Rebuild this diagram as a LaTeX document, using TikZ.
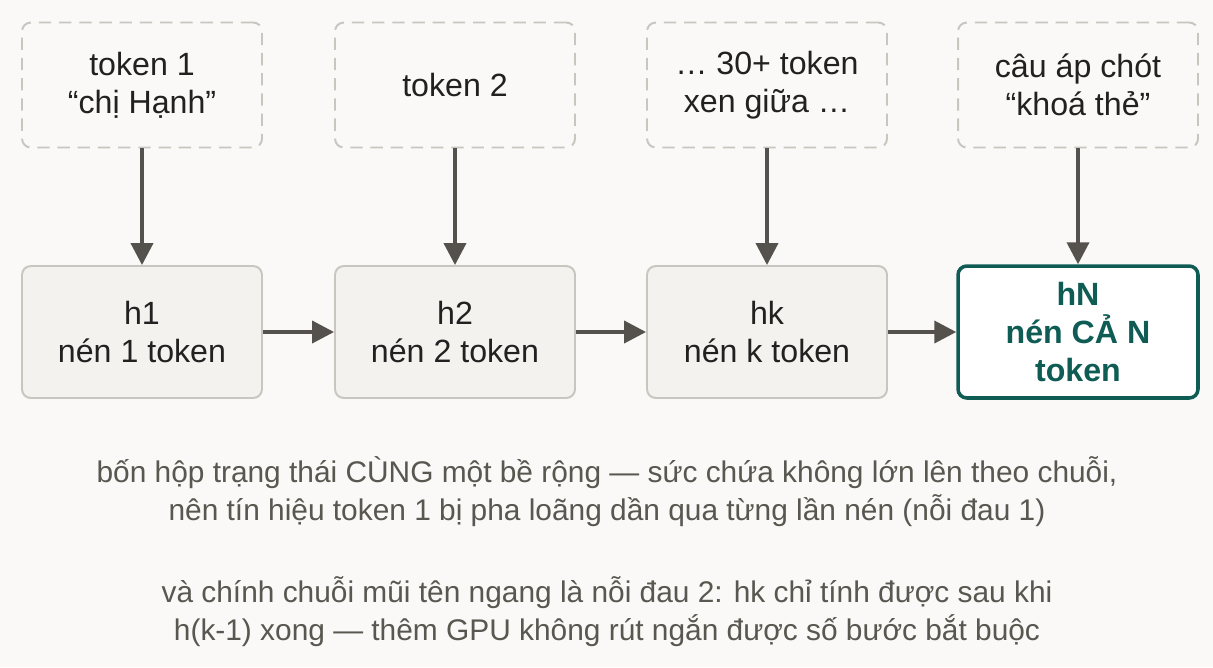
\documentclass[tikz,border=0pt]{standalone}
\usepackage{fontspec}
\setmainfont{Liberation Sans}
\usetikzlibrary{arrows.meta}

\definecolor{nen}{HTML}{FAF9F7}
\definecolor{vien}{HTML}{C9C5BF}
\definecolor{hop}{HTML}{F3F2EF}
\definecolor{muiten}{HTML}{55524D}
\definecolor{chu}{HTML}{5A5650}
\definecolor{xanh}{HTML}{0F5C55}

\tikzset{
  tokbox/.style={draw=vien, line width=1.1pt, dash pattern=on 7pt off 4.5pt,
    rounded corners=5pt, minimum width=4.8cm, minimum height=2.5cm,
    align=center, text=black!87, font=\fontsize{18.3}{21.5}\selectfont},
  hbox/.style={draw=vien, fill=hop, line width=1.1pt, rounded corners=5pt,
    minimum width=4.8cm, minimum height=2.64cm, align=center,
    text=black!87, font=\fontsize{18.3}{21.5}\selectfont},
  hNbox/.style={hbox, draw=xanh, fill=white, line width=2pt, text=xanh,
    font=\fontsize{18.3}{21.5}\selectfont\bfseries},
  noi/.style={->, draw=muiten, line width=2.2pt},
  ghichu/.style={align=center, text=chu, font=\fontsize{17}{21.5}\selectfont}
}

\begin{document}
\begin{tikzpicture}[x=0.02cm, y=-0.02cm, >={Triangle[length=12.5pt,width=12.5pt]}]
  \fill[nen] (0,0) rectangle (1213,667);
  \useasboundingbox (0,0) rectangle (1213,667);

  % hang tren: cac token
  \node[tokbox] (tok1) at (142,85) {token 1\\“chị Hạnh”};
  \node[tokbox] (tok2) at (455,85) {token 2};
  \node[tokbox] (tokk) at (767,85) {… 30+ token\\xen giữa …};
  \node[tokbox] (tokN) at (1078,85) {câu áp chót\\“khoá thẻ”};

  % hang duoi: cac trang thai
  \node[hbox] (h1) at (142,332) {h1\\nén 1 token};
  \node[hbox] (h2) at (455,332) {h2\\nén 2 token};
  \node[hbox] (hk) at (767,332) {hk\\nén k token};
  \node[hNbox] (hN) at (1078,332) {hN\\nén CẢ N\\token};

  \foreach \a/\b in {tok1/h1, tok2/h2, tokk/hk, tokN/hN}
    \draw[noi] (\a) -- (\b);
  \foreach \a/\b in {h1/h2, h2/hk, hk/hN}
    \draw[noi] (\a) -- (\b);

  \node[ghichu] (gc1) at (607,492) {bốn hộp trạng thái CÙNG một bề rộng — sức chứa không lớn lên theo chuỗi,\\nên tín hiệu token 1 bị pha loãng dần qua từng lần nén (nỗi đau 1)};
  \node[ghichu] (gc2) at (607,612) {và chính chuỗi mũi tên ngang là nỗi đau 2: hk chỉ tính được sau khi\\h(k-1) xong — thêm GPU không rút ngắn được số bước bắt buộc};
\end{tikzpicture}
\end{document}
